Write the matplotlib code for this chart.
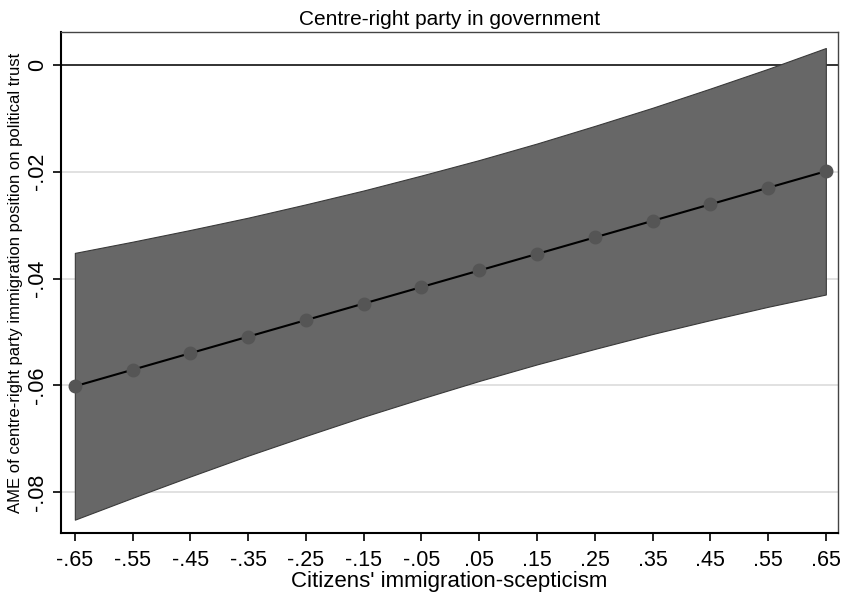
import matplotlib
matplotlib.use("Agg")
import matplotlib.pyplot as plt

plt.rcParams['font.family'] = ['Liberation Sans', 'DejaVu Sans']

x = [-0.65, -0.55, -0.45, -0.35, -0.25, -0.15, -0.05, 0.05, 0.15, 0.25, 0.35, 0.45, 0.55, 0.65]
ame = [-0.0602, -0.0571, -0.0540, -0.0509, -0.0478, -0.0447, -0.0416,
       -0.0385, -0.0354, -0.0323, -0.0292, -0.0261, -0.0230, -0.0199]
upper = [-0.0352, -0.0331, -0.0309, -0.0286, -0.0261, -0.0235, -0.0207,
         -0.0178, -0.0147, -0.0114, -0.0080, -0.0044, -0.0007, 0.0032]
lower = [-0.0852, -0.0811, -0.0771, -0.0732, -0.0695, -0.0659, -0.0625,
         -0.0592, -0.0561, -0.0532, -0.0504, -0.0478, -0.0453, -0.0430]
xtick_labels = ['-.65', '-.55', '-.45', '-.35', '-.25', '-.15', '-.05',
                '.05', '.15', '.25', '.35', '.45', '.55', '.65']
yticks = [0, -0.02, -0.04, -0.06, -0.08]
ytick_labels = ['0', '-.02', '-.04', '-.06', '-.08']

fig = plt.figure(figsize=(8.41, 5.96), dpi=100)
ax = fig.add_axes([0.0725, 0.1057, 0.9239, 0.8406])

for yv in yticks:
    if yv != 0:
        ax.axhline(yv, color='#dcdcdc', lw=1.2, zorder=0)
ax.axhline(0, color='#222222', lw=1.3, zorder=1)

ax.fill_between(x, lower, upper, facecolor='#676767', edgecolor='#3a3a3a', lw=0.8, zorder=2)
ax.plot(x, ame, color='black', lw=1.5, zorder=3)
ax.plot(x, ame, 'o', color='#555555', ms=9, zorder=4)

ax.set_xlim(-0.674, 0.671)
ax.set_ylim(-0.0877, 0.0062)
ax.set_xticks(x)
ax.set_xticklabels(xtick_labels, fontsize=15.5)
ax.set_yticks(yticks)
ax.set_yticklabels(ytick_labels, fontsize=15.5, rotation=90, va='center')
ax.tick_params(direction='out', length=6, width=1.2, color='black')
ax.tick_params(axis='x', pad=6)
ax.tick_params(axis='y', pad=3)

for side in ['left', 'bottom']:
    ax.spines[side].set_linewidth(1.5)
    ax.spines[side].set_color('black')
for side in ['top', 'right']:
    ax.spines[side].set_linewidth(1.0)
    ax.spines[side].set_color('#444444')

ax.set_title("Centre-right party in government", fontsize=15, pad=5)
ax.set_xlabel("Citizens' immigration-scepticism", fontsize=16, labelpad=0)
ax.set_ylabel("AME of centre-right party immigration position on political trust", fontsize=12, labelpad=3)

fig.savefig("out.png", dpi=100)
